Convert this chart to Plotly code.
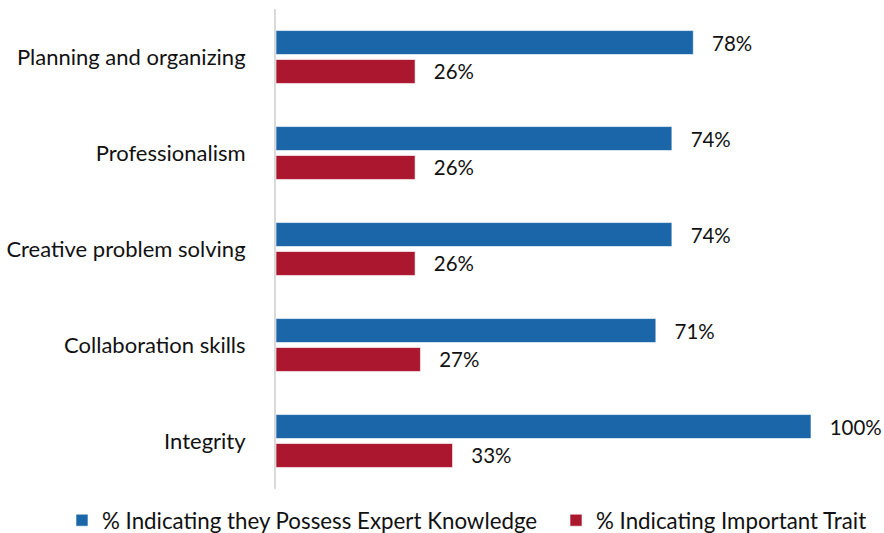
import plotly.graph_objects as go

categories = ["Planning and organizing", "Professionalism", "Creative problem solving",
              "Collaboration skills", "Integrity"]
expert = [0.78, 0.74, 0.74, 0.71, 1.00]
important = [0.26, 0.26, 0.26, 0.27, 0.33]
names = ["% Indicating they Possess Expert Knowledge", "% Indicating Important Trait"]
colors = ["#1B66A8", "#AA172F"]

FONT = "Lato, Carlito, Calibri, sans-serif"

fig = go.Figure()
for i, (vals, name, col) in enumerate(zip([expert, important], names, colors)):
    fig.add_trace(go.Bar(
        y=categories, x=vals, name=name, orientation="h",
        legend="legend" if i == 0 else "legend2",
        marker=dict(color=col, line=dict(color="rgba(255,255,255,0.6)", width=1)),
        text=[f"{round(v*100)}%" for v in vals],
        texttemplate="   %{text}",
        textposition="outside", cliponaxis=False,
        textfont=dict(size=20.5, color="#111111", family=FONT),
    ))

legend_common = dict(orientation="h", xref="container", yref="container",
                     xanchor="left", y=0.024, yanchor="middle",
                     font=dict(size=22.3, family=FONT, color="#111111"),
                     itemwidth=30, bgcolor="rgba(0,0,0,0)")

fig.update_layout(
    width=884, height=533,
    margin=dict(l=276, r=73, t=8.5, b=43.5, autoexpand=False),
    barmode="group", bargap=0.397, bargroupgap=0.172,
    plot_bgcolor="white", paper_bgcolor="white",
    font=dict(family=FONT, size=20, color="#111111"),
    showlegend=True,
    legend=dict(x=62 / 884, **legend_common),
    legend2=dict(x=556 / 884, **legend_common),
    uniformtext=dict(minsize=20, mode="show"),
)
fig.update_xaxes(range=[0, 1], visible=False, fixedrange=True)
fig.update_yaxes(autorange="reversed", showline=True, linecolor="#D9D9D9", linewidth=2,
                 ticks="", ticklabelstandoff=24, showgrid=False, fixedrange=True,
                 tickfont=dict(size=22, family=FONT, color="#111111"))

fig.write_html("out.html", config={"displayModeBar": False},
               post_script="document.body.style.margin='0';document.body.style.overflow='hidden';")
